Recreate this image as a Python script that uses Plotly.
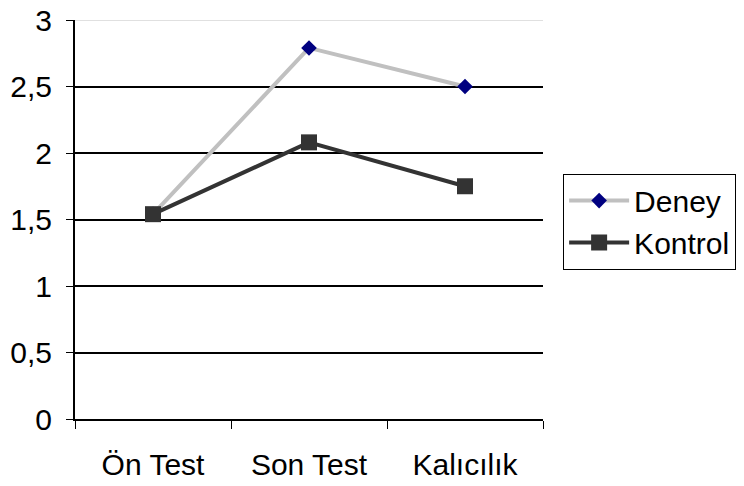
import plotly.graph_objects as go

categories = ["Ön Test", "Son Test", "Kalıcılık"]
deney = [1.54, 2.79, 2.50]
kontrol = [1.54, 2.08, 1.75]
y_ticks = [0, 0.5, 1, 1.5, 2, 2.5, 3]

fig = go.Figure()
fig.add_trace(go.Scatter(
    x=categories, y=deney, name="Deney", mode="lines+markers",
    line=dict(color="#C0C0C0", width=4),
    marker=dict(symbol="diamond", size=12, color="#000080"),
))
fig.add_trace(go.Scatter(
    x=categories, y=kontrol, name="Kontrol", mode="lines+markers",
    line=dict(color="#333333", width=4),
    marker=dict(symbol="square", size=16, color="#333333"),
))

fig.add_shape(type="line", xref="paper", yref="y", x0=0, x1=1, y0=3, y1=3,
              line=dict(color="#E0E0E0", width=2), layer="below")

fig.update_layout(
    width=736, height=478,
    margin=dict(l=67, r=201, t=12, b=67, autoexpand=False),
    paper_bgcolor="white", plot_bgcolor="white",
    separators=", ",
    font=dict(family="Liberation Sans, Arial, sans-serif", color="black", size=30),
    legend=dict(x=1.043, y=0.615, xanchor="left", yanchor="top",
                bordercolor="black", borderwidth=1, font=dict(size=30),
                tracegroupgap=0, bgcolor="white", itemwidth=60),
    showlegend=True,
)
fig.update_xaxes(
    type="category", range=[-0.5, 2.5], tickson="boundaries",
    ticks="outside", ticklen=8, tickcolor="black", tickwidth=1,
    showline=True, linecolor="black", linewidth=2, showgrid=False,
    tickfont=dict(size=30), automargin=False, ticklabelstandoff=18,
)
fig.update_yaxes(
    range=[0, 3], tickvals=y_ticks, ticks="outside", ticklen=7,
    tickcolor="black", showline=True, linecolor="black", linewidth=2,
    showgrid=True, gridcolor="black", gridwidth=2, zeroline=False,
    tickfont=dict(size=30), automargin=False, ticklabelstandoff=8,
    ticklabeloverflow="allow",
)
fig.write_html("out.html")
